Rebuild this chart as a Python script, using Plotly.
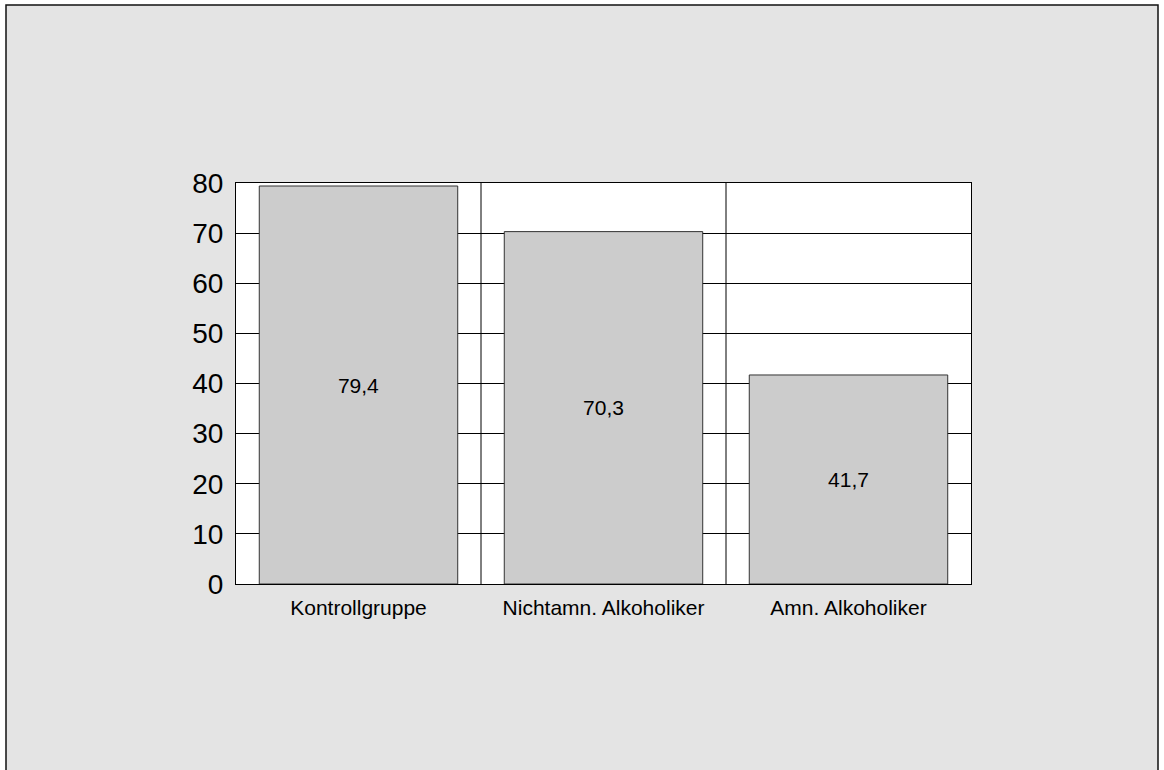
import plotly.graph_objects as go

categories = ["Kontrollgruppe", "Nichtamn. Alkoholiker", "Amn. Alkoholiker"]
values = [79.4, 70.3, 41.7]
y_ticks = [0, 10, 20, 30, 40, 50, 60, 70, 80]

labels = [f"{v:.1f}".replace(".", ",") for v in values]

fig = go.Figure(go.Bar(
    x=categories, y=values, width=0.81,
    marker=dict(color="#cccccc", line=dict(color="#333333", width=1)),
    text=labels, textposition="inside", insidetextanchor="middle",
    textangle=0,
    textfont=dict(family="Liberation Sans, Arial", size=21, color="black"),
    hoverinfo="skip",
))

L, R, T, B = 236, 971, 183, 584
W, H = 1164, 770
pw, ph = R - L, B - T
def px(x): return (x - L) / pw
def py(y): return (B - y) / ph

shapes = [
    dict(type="rect", xref="paper", yref="paper", layer="below",
         x0=px(6), x1=px(1158), y0=py(800), y1=py(5),
         fillcolor="#e4e4e4", line=dict(color="#111111", width=1.5)),
    dict(type="rect", xref="paper", yref="paper", layer="below",
         x0=0, x1=1, y0=0, y1=1, fillcolor="white", line=dict(width=0)),
]
for xd in [0.5, 1.5]:
    shapes.append(dict(type="line", xref="x", yref="paper", x0=xd, x1=xd, y0=0, y1=1,
                       layer="below", line=dict(color="black", width=1)))

fig.update_layout(
    width=W, height=H,
    margin=dict(l=L, r=W - R, t=T, b=H - B, pad=0),
    paper_bgcolor="white", plot_bgcolor="white",
    showlegend=False, shapes=shapes,
    font=dict(family="Liberation Sans, Arial", color="black"),
)
fig.update_yaxes(range=[0, 80], tickvals=y_ticks, showgrid=True, gridcolor="black", gridwidth=1,
                 showline=True, linecolor="black", linewidth=1, mirror=True, zeroline=False,
                 ticks="", tickfont=dict(size=28), ticklabelstandoff=6, fixedrange=True)
fig.update_xaxes(showgrid=False, showline=True, linecolor="black", linewidth=1, mirror=True,
                 ticks="", tickfont=dict(size=21), ticklabelstandoff=5, fixedrange=True)

fig.write_html("out.html", config={"displayModeBar": False})
